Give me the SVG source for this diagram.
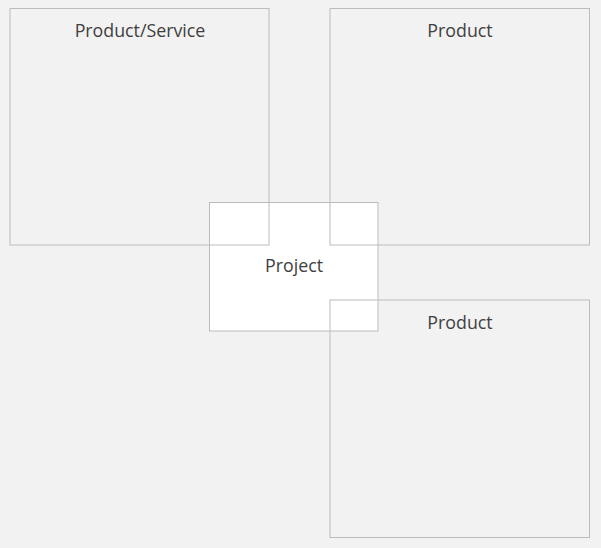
<svg xmlns="http://www.w3.org/2000/svg" width="601" height="548" viewBox="0 0 601 548">
<style>
.box{fill:none;stroke:#bcbcbc;stroke-width:1}
.proj{fill:#ffffff;stroke:#bcbcbc;stroke-width:1}
.lbl{font-family:"Open Sans","Noto Sans",sans-serif;font-size:17.8px;fill:#404040;text-anchor:middle}
</style>
<rect width="601" height="548" fill="#f2f2f2"/>
<g id="project">
<rect class="proj" x="209.5" y="202.5" width="168.5" height="128.5"/>
<text class="lbl" x="294" y="272">Project</text>
</g>
<g id="product-service">
<rect class="box" x="10" y="8.5" width="259" height="236.5"/>
<text class="lbl" x="140" y="37">Product/Service</text>
</g>
<g id="product-top">
<rect class="box" x="330" y="8.5" width="259.5" height="236.5"/>
<text class="lbl" x="460" y="37">Product</text>
</g>
<g id="product-bottom">
<rect class="box" x="330" y="300" width="259.5" height="237.5"/>
<text class="lbl" x="460" y="329">Product</text>
</g>
<g id="connectors"></g>
</svg>
